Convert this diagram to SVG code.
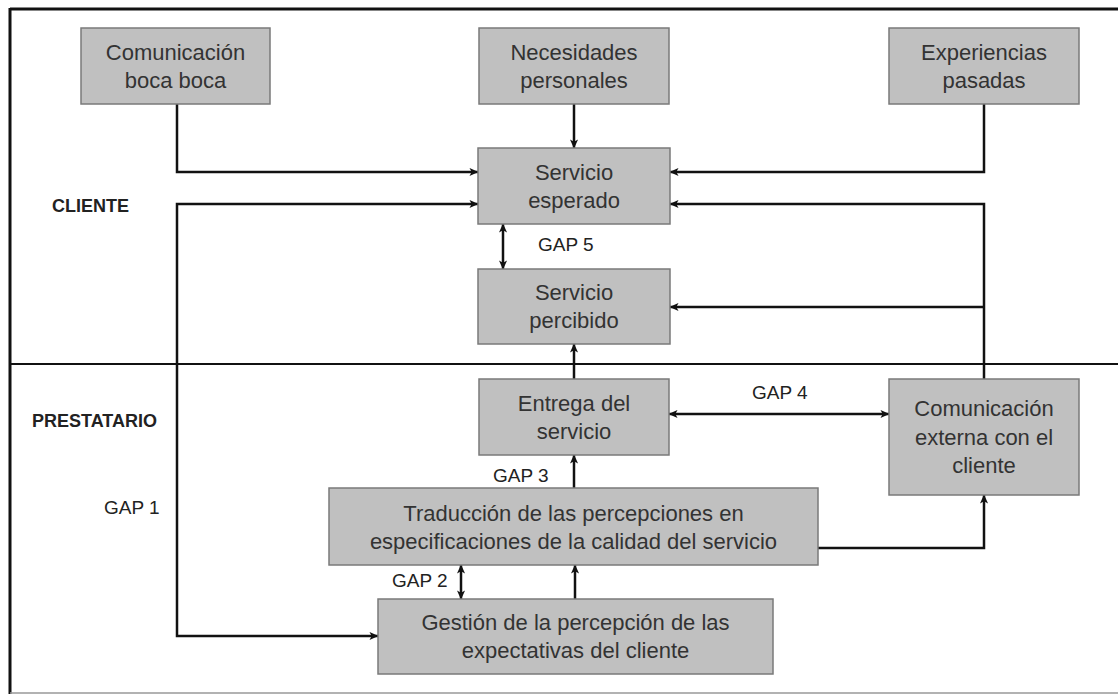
<svg xmlns="http://www.w3.org/2000/svg" width="1118" height="695" viewBox="0 0 1118 695">
<style>
.box{fill:#c0c0c0;stroke:#7a7a7a;stroke-width:1.5}
.t{font-family:"Liberation Sans",Arial,sans-serif;font-size:22px;fill:#333;text-anchor:middle}
.lbl{font-family:"Liberation Sans",Arial,sans-serif;font-size:19px;fill:#222}
.sec{font-family:"Liberation Sans",Arial,sans-serif;font-size:18px;font-weight:bold;fill:#222}
.c{fill:none;stroke:#111;stroke-width:2.5}
.frame{fill:none;stroke:#111;stroke-width:3}
</style>
<defs>
<marker id="ah" viewBox="0 0 10 10" refX="9.5" refY="5" markerWidth="10" markerHeight="9" markerUnits="userSpaceOnUse" orient="auto-start-reverse">
<path d="M0,0.5 L10,5 L0,9.5 L2.5,5 z" fill="#111"/>
</marker>
</defs>
<rect width="1118" height="695" fill="#fff"/>
<g id="frame">
<line x1="10" y1="9" x2="1118" y2="9" class="frame"/>
<line x1="10" y1="8" x2="10" y2="694" class="frame"/>
<line x1="10" y1="693" x2="1118" y2="693" stroke="#999" stroke-width="1.5"/>
<line x1="10" y1="364" x2="1118" y2="364" stroke="#111" stroke-width="2"/>
</g>
<g id="connectors">
<path class="c" d="M177,104 V172 H478" marker-end="url(#ah)"/>
<path class="c" d="M574,104 V148" marker-end="url(#ah)"/>
<path class="c" d="M984,104 V172 H670" marker-end="url(#ah)"/>
<path class="c" d="M478,204 H177 V636 H378" marker-start="url(#ah)" marker-end="url(#ah)"/>
<path class="c" d="M984,379 V204 H670" marker-end="url(#ah)"/>
<path class="c" d="M984,307 H670" marker-end="url(#ah)"/>
<path class="c" d="M503,224 V269" marker-start="url(#ah)" marker-end="url(#ah)"/>
<path class="c" d="M574,379 V344" marker-end="url(#ah)"/>
<path class="c" d="M669,414 H889" marker-start="url(#ah)" marker-end="url(#ah)"/>
<path class="c" d="M574,488 V455" marker-end="url(#ah)"/>
<path class="c" d="M818,548 H984 V495" marker-end="url(#ah)"/>
<path class="c" d="M575,599 V565" marker-end="url(#ah)"/>
<path class="c" d="M461,565 V599" marker-start="url(#ah)" marker-end="url(#ah)"/>
</g>
<g id="n-boca"><rect class="box" x="81" y="28" width="189" height="76"/><text class="t" x="175.5" y="60">Comunicación</text><text class="t" x="175.5" y="88">boca boca</text></g>
<g id="n-necesidades"><rect class="box" x="479" y="28" width="190" height="76"/><text class="t" x="574" y="60">Necesidades</text><text class="t" x="574" y="88">personales</text></g>
<g id="n-experiencias"><rect class="box" x="889" y="28" width="190" height="76"/><text class="t" x="984" y="60">Experiencias</text><text class="t" x="984" y="88">pasadas</text></g>
<g id="n-esperado"><rect class="box" x="478" y="148" width="192" height="76"/><text class="t" x="574" y="180">Servicio</text><text class="t" x="574" y="208">esperado</text></g>
<g id="n-percibido"><rect class="box" x="478" y="269" width="192" height="75"/><text class="t" x="574" y="300">Servicio</text><text class="t" x="574" y="328">percibido</text></g>
<g id="n-entrega"><rect class="box" x="479" y="379" width="190" height="76"/><text class="t" x="574" y="411">Entrega del</text><text class="t" x="574" y="439">servicio</text></g>
<g id="n-externa"><rect class="box" x="889" y="379" width="190" height="116"/><text class="t" x="984" y="416">Comunicación</text><text class="t" x="984" y="445">externa con el</text><text class="t" x="984" y="473">cliente</text></g>
<g id="n-traduccion"><rect class="box" x="329" y="488" width="489" height="77"/><text class="t" x="573.5" y="521">Traducción de las percepciones en</text><text class="t" x="573.5" y="549">especificaciones de la calidad del servicio</text></g>
<g id="n-gestion"><rect class="box" x="378" y="599" width="395" height="75"/><text class="t" x="575.5" y="630">Gestión de la percepción de las</text><text class="t" x="575.5" y="658">expectativas del cliente</text></g>
<g id="labels">
<text class="sec" x="52" y="212">CLIENTE</text>
<text class="sec" x="32" y="427">PRESTATARIO</text>
<text class="lbl" x="104" y="514">GAP 1</text>
<text class="lbl" x="392" y="587">GAP 2</text>
<text class="lbl" x="493" y="482">GAP 3</text>
<text class="lbl" x="752" y="399">GAP 4</text>
<text class="lbl" x="538" y="251">GAP 5</text>
</g>
</svg>
